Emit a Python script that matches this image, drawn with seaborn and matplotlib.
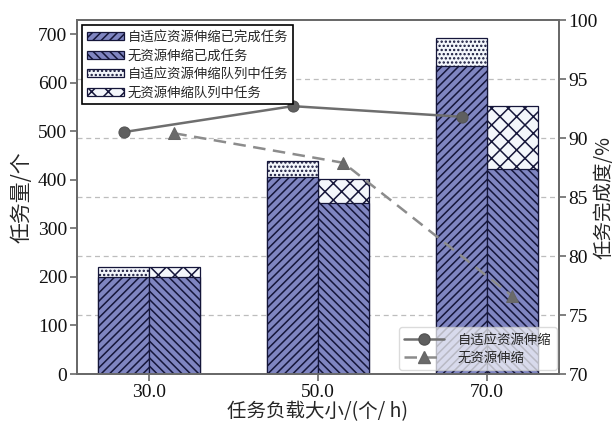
import numpy as np
import pandas as pd
import matplotlib
matplotlib.use("Agg")
import matplotlib.pyplot as plt
import seaborn as sns
from matplotlib.patches import Patch
from matplotlib.lines import Line2D
from matplotlib.font_manager import FontProperties

sns.set_theme(style="white")
plt.rcParams['font.family'] = ['Liberation Serif', 'Noto Sans CJK SC']
plt.rcParams['axes.unicode_minus'] = False
plt.rcParams['hatch.linewidth'] = 1.1

# ---- data ----
categories = ["30.0", "50.0", "70.0"]
adaptive_done = [200, 405, 635]
adaptive_total = [220, 438, 692]
nores_done = [200, 352, 422]
nores_total = [220, 402, 552]
adaptive_rate = [90.5, 92.7, 91.8]
nores_rate = [90.4, 87.9, 76.6]

series_names = ["自适应资源伸缩", "无资源伸缩"]
legend_bar_labels = ["自适应资源伸缩已完成任务", "无资源伸缩已成任务",
                     "自适应资源伸缩队列中任务", "无资源伸缩队列中任务"]

fill_color = "#7F85C1"
queue_color = "#F3F6FB"
edge_color = "#15163A"

cjk = FontProperties(family="Noto Sans CJK SC", size=9.6)
cjk_label = FontProperties(family="Noto Sans CJK SC", size=14)

df_total = pd.DataFrame({
    "cat": categories * 2,
    "val": adaptive_total + nores_total,
    "series": [series_names[0]] * 3 + [series_names[1]] * 3,
})
df_done = pd.DataFrame({
    "cat": categories * 2,
    "val": adaptive_done + nores_done,
    "series": [series_names[0]] * 3 + [series_names[1]] * 3,
})

fig = plt.figure(figsize=(6.14, 4.22), dpi=100)
ax = fig.add_axes([0.1254, 0.1137, 0.785, 0.8389])

ymax_left = 729
ax.set_ylim(0, ymax_left)

# gridlines (behind bars) at right-axis tick levels
for v in [75, 80, 85, 90, 95]:
    ax.axhline((v - 70) / 30 * ymax_left, color="#bdbdbd", ls=(0, (4, 3)),
               lw=0.9, zorder=0)

sns.barplot(data=df_total, x="cat", y="val", hue="series", width=0.6,
            dodge=True, ax=ax, legend=False, saturation=1, zorder=2)
sns.barplot(data=df_done, x="cat", y="val", hue="series", width=0.6,
            dodge=True, ax=ax, legend=False, saturation=1, zorder=3)

hatches = ["....", "xx", "////", "\\\\\\\\"]
fills = [queue_color, queue_color, fill_color, fill_color]
for cont, h, fc in zip(ax.containers, hatches, fills):
    for p in cont:
        p.set_facecolor(fc)
        p.set_edgecolor(edge_color)
        p.set_hatch(h)
        p.set_linewidth(0.9)

ax.set_xlim(-0.426, 2.426)
ax.set_yticks([0, 100, 200, 300, 400, 500, 600, 700])
ax.set_xlabel("任务负载大小/(个/ h)", fontproperties=cjk_label, labelpad=0)
ax.set_ylabel("任务量/个", fontproperties=FontProperties(family="Noto Sans CJK SC", size=15),
              labelpad=4)

ax2 = ax.twinx()
xpos = np.arange(len(categories))
df_line = pd.DataFrame({
    "x": np.concatenate([xpos - 0.15, xpos + 0.15]),
    "rate": adaptive_rate + nores_rate,
    "series": [series_names[0]] * 3 + [series_names[1]] * 3,
})
sns.lineplot(data=df_line[df_line.series == series_names[0]], x="x", y="rate",
             ax=ax2, color="#6e6e6e", lw=1.8, marker="o", markersize=8,
             markeredgecolor="#555555", markerfacecolor="#5f5f5f", legend=False)
sns.lineplot(data=df_line[df_line.series == series_names[1]], x="x", y="rate",
             ax=ax2, color="#8c8c8c", lw=1.8, ls=(0, (5, 3)), marker="^",
             markersize=8, markeredgecolor="#666666",
             markerfacecolor="#6a6a6a", legend=False)
ax2.set_ylim(70, 100)
ax2.set_yticks([70, 75, 80, 85, 90, 95, 100])
ax2.set_ylabel("任务完成度/%", fontproperties=cjk_label)
ax2.yaxis.set_label_coords(1.093, 0.5)
ax2.yaxis.label.set_verticalalignment("center")
ax2.set_xlabel("")
ax.set_xlim(-0.426, 2.426)

for a in (ax, ax2):
    for s in a.spines.values():
        s.set_color("#6a6a6a")
        s.set_linewidth(1.4)
    a.tick_params(axis="both", direction="out", length=5, width=1.2,
                  color="#6a6a6a", labelsize=14, labelcolor="#111111")
ax.tick_params(axis="x", bottom=True, pad=2)
ax.tick_params(axis="y", left=True, pad=2)
ax2.tick_params(axis="y", right=True, pad=2)

# legends
bar_handles = [
    Patch(facecolor=fill_color, edgecolor=edge_color, hatch="////", lw=0.9),
    Patch(facecolor=fill_color, edgecolor=edge_color, hatch="\\\\\\\\", lw=0.9),
    Patch(facecolor=queue_color, edgecolor=edge_color, hatch="....", lw=0.9),
    Patch(facecolor=queue_color, edgecolor=edge_color, hatch="xx", lw=0.9),
]
leg1 = ax2.legend(bar_handles, legend_bar_labels, loc="upper left",
                  bbox_to_anchor=(0.011, 0.986), borderaxespad=0,
                  prop=cjk, frameon=True, fancybox=False,
                  edgecolor="black", framealpha=1, handlelength=2.8,
                  handleheight=0.55, handletextpad=0.25, labelspacing=0.35,
                  borderpad=0.35)
leg1.get_frame().set_linewidth(1.2)
ax2.add_artist(leg1)

line_handles = [
    Line2D([], [], color="#6e6e6e", lw=1.8, marker="o", markersize=8,
           markeredgecolor="#555555", markerfacecolor="#5f5f5f"),
    Line2D([], [], color="#8c8c8c", lw=1.8, ls=(0, (5, 3)), marker="^",
           markersize=8, markeredgecolor="#666666", markerfacecolor="#6a6a6a"),
]
leg2 = ax2.legend(line_handles, series_names, loc="lower right",
                  bbox_to_anchor=(0.995, 0.012), borderaxespad=0,
                  prop=cjk, frameon=True, framealpha=0.7,
                  edgecolor="#cccccc", handlelength=3.0, handletextpad=1.0,
                  labelspacing=0.3)

fig.savefig("out.png", dpi=100)
